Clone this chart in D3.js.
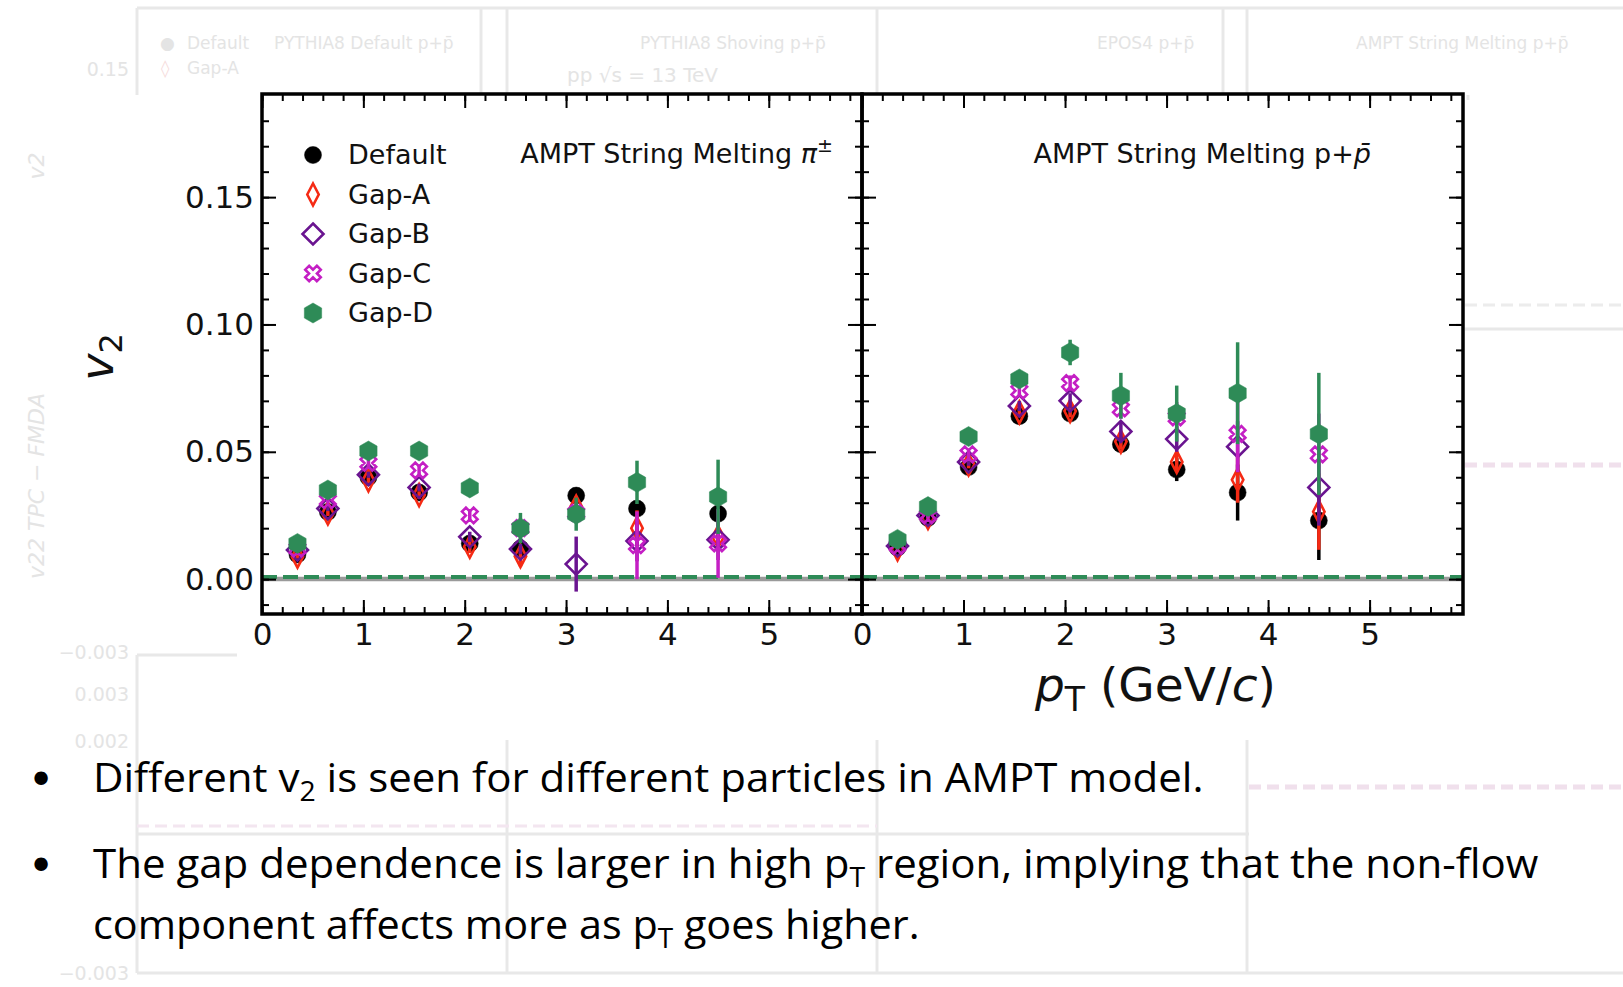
<!DOCTYPE html>
<html>
<head>
<meta charset="utf-8">
<script src="https://cdn.jsdelivr.net/npm/d3@7"></script>
<style>
body { margin: 0; background: #fff; }
svg { display: block; }
</style>
</head>
<body>
<script>
// pT bin centres (GeV/c), same for both panels
const ptBins = [0.35, 0.65, 1.05, 1.55, 2.05, 2.55, 3.1, 3.7, 4.5];
const gapNames = ["Default", "Gap-A", "Gap-B", "Gap-C", "Gap-D"];

// AMPT string melting, pions
const pionDefault = [0.0097, 0.0264, 0.0400, 0.0340, 0.0140, 0.0120, 0.0328, 0.0277, 0.0257];
const pionDefaultErr = [0.0005, 0.0007, 0.0008, 0.0010, 0.0012, 0.0015, 0.0020, 0.0025, 0.0030];
const pionGapA = [0.0088, 0.0258, 0.0388, 0.0330, 0.0127, 0.0090, 0.0285, 0.0200, 0.0166];
const pionGapAErr = [0.0008, 0.0010, 0.0012, 0.0015, 0.0025, 0.0040, 0.0040, 0.0070, 0.0055];
const pionGapB = [0.0114, 0.0277, 0.0410, 0.0360, 0.0166, 0.0118, 0.0059, 0.0150, 0.0155];
const pionGapBErr = [0.0008, 0.0010, 0.0012, 0.0015, 0.0020, 0.0020, 0.0108, 0.0080, 0.0080];
const pionGapC = [0.0120, 0.0310, 0.0456, 0.0427, 0.0250, 0.0200, 0.0260, 0.0133, 0.0140];
const pionGapCErr = [0.0010, 0.0012, 0.0015, 0.0020, 0.0025, 0.0040, 0.0040, 0.0133, 0.0135];
const pionGapD = [0.0140, 0.0350, 0.0503, 0.0503, 0.0358, 0.0200, 0.0255, 0.0380, 0.0323];
const pionGapDErr = [0.0008, 0.0010, 0.0012, 0.0015, 0.0020, 0.0060, 0.0065, 0.0085, 0.0146];

// AMPT string melting, protons
const protonDefault = [0.0123, 0.0240, 0.0440, 0.0640, 0.0650, 0.0530, 0.0430, 0.0340, 0.0230];
const protonDefaultErr = [0.0005, 0.0008, 0.0010, 0.0015, 0.0020, 0.0030, 0.0045, 0.0110, 0.0155];
const protonGapA = [0.0117, 0.0240, 0.0450, 0.0655, 0.0660, 0.0540, 0.0460, 0.0390, 0.0265];
const protonGapAErr = [0.0008, 0.0010, 0.0015, 0.0020, 0.0025, 0.0030, 0.0040, 0.0090, 0.0150];
const protonGapB = [0.0130, 0.0250, 0.0460, 0.0680, 0.0700, 0.0580, 0.0550, 0.0520, 0.0360];
const protonGapBErr = [0.0008, 0.0010, 0.0015, 0.0020, 0.0030, 0.0040, 0.0050, 0.0100, 0.0150];
const protonGapC = [0.0130, 0.0250, 0.0490, 0.0740, 0.0770, 0.0670, 0.0635, 0.0570, 0.0490];
const protonGapCErr = [0.0010, 0.0012, 0.0015, 0.0020, 0.0030, 0.0040, 0.0060, 0.0150, 0.0160];
const protonGapD = [0.0156, 0.0285, 0.0560, 0.0786, 0.0890, 0.0720, 0.0650, 0.0730, 0.0570];
const protonGapDErr = [0.0010, 0.0012, 0.0015, 0.0020, 0.0050, 0.0090, 0.0110, 0.0200, 0.0240];

// ticks
const xMajorTicks = [0, 1, 2, 3, 4, 5];
const yMajorTicks = [0, 0.05, 0.10, 0.15];
const zeroLine = 0, dashedLevel = 0.0008;

const bullets = [
  [["Different v"], ["2", "sub"], [" is seen for different particles in AMPT model."]],
  [["The gap dependence is larger in high p"], ["T", "sub"], [" region, implying that the non-flow"]],
  [["component affects more as p"], ["T", "sub"], [" goes higher."]]
];

const colors = ["#000000", "#f52a14", "#6a1490", "#c41fc4", "#2e8b57"];

// marker shapes (size = radius in px)
const hexagon = { draw(ctx, r) {
  for (let k = 0; k < 6; k++) {
    const a = -Math.PI / 2 + k * Math.PI / 3;
    k ? ctx.lineTo(r * Math.cos(a), r * Math.sin(a)) : ctx.moveTo(r * Math.cos(a), r * Math.sin(a));
  }
  ctx.closePath();
}};
const thinDiamond = { draw(ctx, r) {
  ctx.moveTo(0, -r); ctx.lineTo(r * 0.52, 0); ctx.lineTo(0, r); ctx.lineTo(-r * 0.52, 0); ctx.closePath();
}};
const diamond = { draw(ctx, r) {
  ctx.moveTo(0, -r); ctx.lineTo(r, 0); ctx.lineTo(0, r); ctx.lineTo(-r, 0); ctx.closePath();
}};
const xCross = { draw(ctx, r) {
  const w = r * 0.34;
  const pts = [[-w,-r],[w,-r],[w,-w],[r,-w],[r,w],[w,w],[w,r],[-w,r],[-w,w],[-r,w],[-r,-w],[-w,-w]];
  const c = Math.SQRT1_2;
  pts.forEach((p, i) => {
    const x = (p[0] - p[1]) * c, y = (p[0] + p[1]) * c;
    i ? ctx.lineTo(x, y) : ctx.moveTo(x, y);
  });
  ctx.closePath();
}};
const circle = { draw(ctx, r) { ctx.moveTo(r, 0); ctx.arc(0, 0, r, 0, 2 * Math.PI); } };

const markers = [
  { type: circle, size: 8.5, fill: true },
  { type: thinDiamond, size: 11, fill: false },
  { type: diamond, size: 10.5, fill: false },
  { type: xCross, size: 8.2, fill: false },
  { type: hexagon, size: 10, fill: true }
];

const panels = [
  { x0: 262, x1: 862, title: "pion", yLabels: true,
    series: [[pionDefault, pionDefaultErr], [pionGapA, pionGapAErr], [pionGapB, pionGapBErr], [pionGapC, pionGapCErr], [pionGapD, pionGapDErr]] },
  { x0: 862, x1: 1463, title: "proton", yLabels: false,
    series: [[protonDefault, protonDefaultErr], [protonGapA, protonGapAErr], [protonGapB, protonGapBErr], [protonGapC, protonGapCErr], [protonGapD, protonGapDErr]] }
];

const W = 1623, H = 987;
const plotTop = 94, plotBottom = 614;

const svg = d3.select("body").append("svg")
  .attr("width", W)
  .attr("height", H)
  .style("font-family", "'DejaVu Sans', sans-serif");

// ---- faint background figure (washed out slide image) ----
const faint = svg.append("g").attr("stroke", "#e8e8e8").attr("fill", "none").attr("stroke-width", 3);
[[137,8,1623,8],[137,8,137,95],[481,8,481,95],[507,8,507,95],[877,8,877,95],[1223,8,1223,95],[1247,8,1247,95],
 [137,655,237,655],[137,655,137,973],[137,973,1623,973],[507,740,507,973],[877,740,877,973],[1247,740,1247,973],
 [137,834,1249,834],[1465,329,1623,329],[1468,95,1468,100]]
  .forEach(l => faint.append("line").attr("x1", l[0]).attr("y1", l[1]).attr("x2", l[2]).attr("y2", l[3]));
faint.append("line").attr("x1", 137).attr("y1", 826).attr("x2", 877).attr("y2", 826)
  .attr("stroke", "#f3e6f0").attr("stroke-dasharray", "12,6");
faint.append("line").attr("x1", 1249).attr("y1", 787).attr("x2", 1623).attr("y2", 787)
  .attr("stroke", "#f0e0ec").attr("stroke-width", 5).attr("stroke-dasharray", "12,6");
faint.append("line").attr("x1", 1465).attr("y1", 465).attr("x2", 1623).attr("y2", 465)
  .attr("stroke", "#f0e0ec").attr("stroke-width", 5).attr("stroke-dasharray", "12,6");
faint.append("line").attr("x1", 1465).attr("y1", 305).attr("x2", 1623).attr("y2", 305)
  .attr("stroke", "#ececec").attr("stroke-dasharray", "12,6");

const faintText = svg.append("g").attr("fill", "#e4e4e4").style("font-size", "17px");
[["Default",187,49],["Gap-A",187,74],["PYTHIA8 Default p+p\u0304",274,49],["PYTHIA8 Shoving p+p\u0304",640,49],
 ["EPOS4 p+p\u0304",1097,49],["AMPT String Melting p+p\u0304",1356,49]]
  .forEach(t => faintText.append("text").attr("x", t[1]).attr("y", t[2]).text(t[0]));
faintText.append("text").attr("x", 567).attr("y", 82).style("font-size", "20px").text("pp \u221As = 13 TeV");
faintText.append("text").attr("x", 129).attr("y", 76).attr("text-anchor", "end").style("font-size", "19px").text("0.15");
["\u22120.003","0.003","0.002","\u22120.003"].forEach((t, i) =>
  faintText.append("text").attr("x", 129).attr("y", [652,694,741,973][i] + 7)
    .attr("text-anchor", "end").style("font-size", "19px").text(t));
faintText.append("text").attr("transform", "translate(44,166) rotate(-90)").attr("text-anchor", "middle")
  .style("font-size", "22px").style("font-style", "italic").text("v2");
faintText.append("text").attr("transform", "translate(44,486) rotate(-90)").attr("text-anchor", "middle")
  .style("font-size", "22px").style("font-style", "italic").text("v22 TPC \u2212 FMDA");
faintText.append("text").attr("x", 160).attr("y", 49).text("\u25CF");
faintText.append("text").attr("x", 161).attr("y", 74).attr("fill", "#f6dcdc").text("\u25CA");

// ---- main panels ----
const y = d3.scaleLinear().domain([-0.0137, 0.1905]).range([plotBottom, plotTop]);

panels.forEach((p, pi) => {
  const x = d3.scaleLinear().domain([0, 5.92]).range([p.x0, p.x1]);
  const g = svg.append("g");

  // reference lines at zero
  g.append("line")
    .attr("x1", x(0)).attr("x2", x(5.92))
    .attr("y1", y(zeroLine)).attr("y2", y(zeroLine))
    .attr("stroke", "#9a9a9a").attr("stroke-width", 4.5);
  g.append("line")
    .attr("x1", x(0)).attr("x2", x(5.92))
    .attr("y1", y(dashedLevel)).attr("y2", y(dashedLevel))
    .attr("stroke", "#2e8b57").attr("stroke-width", 4)
    .attr("stroke-dasharray", "15,6");

  // data series
  p.series.forEach((s, si) => {
    const vals = s[0], errs = s[1];
    const m = markers[si];
    const sg = g.append("g");
    sg.selectAll("line.err")
      .data(ptBins)
      .join("line")
      .attr("class", "err")
      .attr("x1", d => x(d)).attr("x2", d => x(d))
      .attr("y1", (d, i) => y(vals[i] - errs[i]))
      .attr("y2", (d, i) => y(vals[i] + errs[i]))
      .attr("stroke", colors[si])
      .attr("stroke-width", 3.5);
    sg.selectAll("path.mk")
      .data(ptBins)
      .join("path")
      .attr("class", "mk")
      .attr("transform", (d, i) => `translate(${x(d)},${y(vals[i])})`)
      .attr("d", d3.symbol().type(m.type).size(m.size))
      .attr("fill", m.fill ? colors[si] : "none")
      .attr("stroke", colors[si])
      .attr("stroke-width", m.fill ? 0.5 : 2.6);
  });

  // axes, ticks pointing inward on all four sides
  const xMinor = d3.range(0, 5.9, 0.2);
  const yMinor = d3.range(-0.01, 0.19, 0.01);
  const addAxis = (axis, tx, ty) => g.append("g").attr("transform", `translate(${tx},${ty})`).call(axis);

  const ax = [
    addAxis(d3.axisBottom(x).tickValues(xMinor).tickSize(-7).tickFormat(""), 0, plotBottom),
    addAxis(d3.axisBottom(x).tickValues(xMajorTicks).tickSize(-14).tickPadding(9).tickFormat(d3.format("d")), 0, plotBottom),
    addAxis(d3.axisTop(x).tickValues(xMinor).tickSize(-7).tickFormat(""), 0, plotTop),
    addAxis(d3.axisTop(x).tickValues(xMajorTicks).tickSize(-14).tickFormat(""), 0, plotTop),
    addAxis(d3.axisLeft(y).tickValues(yMinor).tickSize(-7).tickFormat(""), p.x0, 0),
    addAxis(d3.axisLeft(y).tickValues(yMajorTicks).tickSize(-14).tickPadding(8)
      .tickFormat(p.yLabels ? d3.format(".2f") : ""), p.x0, 0),
    addAxis(d3.axisRight(y).tickValues(yMinor).tickSize(-7).tickFormat(""), p.x1, 0),
    addAxis(d3.axisRight(y).tickValues(yMajorTicks).tickSize(-14).tickFormat(""), p.x1, 0)
  ];
  ax.forEach(a => {
    a.select(".domain").remove();
    a.selectAll(".tick line").attr("stroke", "#000").attr("stroke-width", 2);
    a.selectAll(".tick text")
      .attr("fill", "#111")
      .style("font-family", "'DejaVu Sans', sans-serif")
      .style("font-size", "31px");
  });

  g.append("rect")
    .attr("x", p.x0).attr("y", plotTop)
    .attr("width", p.x1 - p.x0).attr("height", plotBottom - plotTop)
    .attr("fill", "none").attr("stroke", "#000").attr("stroke-width", 3.5);

  // panel title
  const t = g.append("text")
    .attr("x", pi === 0 ? 833 : 1371).attr("y", 163)
    .attr("text-anchor", "end")
    .style("font-size", "27px").attr("fill", "#111");
  if (pi === 0) {
    t.append("tspan").text("AMPT String Melting ");
    t.append("tspan").style("font-style", "italic").text("\u03C0");
    t.append("tspan").attr("dy", -11).style("font-size", "19px").text("\u00B1");
  } else {
    t.append("tspan").text("AMPT String Melting p+");
    t.append("tspan").style("font-style", "italic").text("p\u0304");
  }
});

// legend
const legend = svg.append("g").attr("transform", "translate(313,155)");
gapNames.forEach((name, i) => {
  const m = markers[i];
  const row = legend.append("g").attr("transform", `translate(0,${i * 39.5})`);
  row.append("path")
    .attr("d", d3.symbol().type(m.type).size(m.size))
    .attr("fill", m.fill ? colors[i] : "none")
    .attr("stroke", colors[i])
    .attr("stroke-width", m.fill ? 0.5 : 2.6);
  row.append("text")
    .attr("x", 35).attr("y", 0).attr("dy", "0.35em")
    .style("font-size", "27px").attr("fill", "#111")
    .text(name);
});

// axis titles
const yt = svg.append("text")
  .attr("transform", "translate(113,357) rotate(-90)")
  .attr("text-anchor", "middle")
  .style("font-size", "46px").attr("fill", "#111");
yt.append("tspan").style("font-style", "italic").text("v");
yt.append("tspan").attr("dy", 9).style("font-size", "32px").text("2");

const xt = svg.append("text")
  .attr("x", 1035).attr("y", 701)
  .style("font-size", "47px").attr("fill", "#111");
xt.append("tspan").style("font-style", "italic").text("p");
xt.append("tspan").attr("dy", 10).style("font-size", "33px").text("T");
xt.append("tspan").attr("dy", -10).text(" (GeV/");
xt.append("tspan").style("font-style", "italic").text("c");
xt.append("tspan").text(")");

// bullet text
const lineY = [792, 878, 939];
const lineW = [1111, 1446, 827];
bullets.forEach((parts, i) => {
  if (i < 2) {
    svg.append("text").attr("x", 41).attr("y", lineY[i] + 4).attr("text-anchor", "middle")
      .style("font-family", "'DejaVu Sans', sans-serif").style("font-size", "46px").text("\u2022");
  }
  const t = svg.append("text")
    .attr("x", 0).attr("y", 0)
    .style("font-family", "'Open Sans', sans-serif")
    .style("font-size", "40px").attr("fill", "#000");
  parts.forEach((pt, k) => {
    if (pt[1] === "sub") {
      t.append("tspan").attr("dy", 9).style("font-size", "27px").text(pt[0]);
    } else {
      const ts = t.append("tspan").text(pt[0]);
      if (k > 0) ts.attr("dy", -9);
    }
  });
  const w = t.node().getBBox().width;
  t.attr("transform", `translate(93,${lineY[i]}) scale(${lineW[i] / w},1)`);
});
</script>
</body>
</html>
